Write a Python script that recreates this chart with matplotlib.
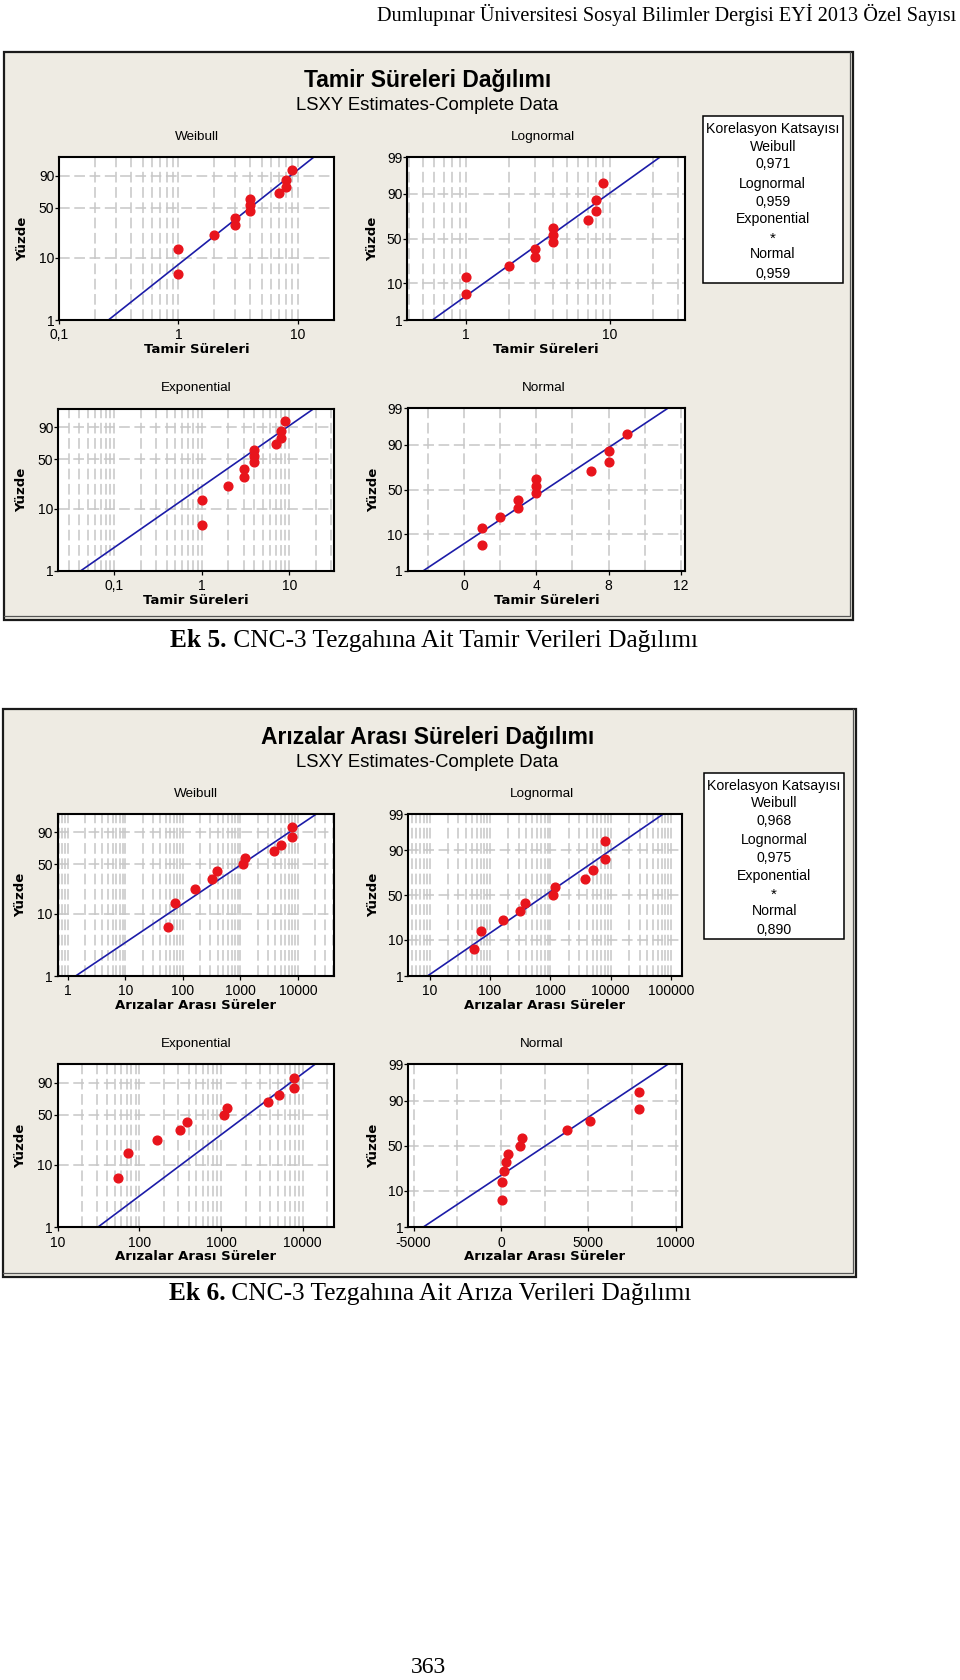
import math
import numpy as np
import matplotlib
matplotlib.use("Agg")
import matplotlib.pyplot as plt
from matplotlib.patches import Rectangle
from matplotlib.lines import Line2D
from matplotlib.ticker import NullFormatter

plt.rcParams['font.family'] = ['Liberation Sans', 'DejaVu Sans']

# ---- values ----
dagilimlar = ["Weibull", "Lognormal", "Exponential", "Normal"]

tamir_sure = [1, 1, 2, 3, 3, 4, 4, 4, 7, 8, 8, 9]
tamir_yuzde = [5.6, 13.7, 21.8, 29.8, 37.9, 46.0, 54.0, 62.1, 70.2, 78.2, 86.3, 94.4]
tamir_korelasyon = ["0,971", "0,959", "*", "0,959"]
tamir_xticks = {"Weibull": [0.1, 1, 10], "Lognormal": [1, 10],
                "Exponential": [0.1, 1, 10], "Normal": [0, 4, 8, 12]}

ariza_sure = [55, 72, 165, 315, 385, 1090, 1180, 3780, 5120, 7900, 7900]
ariza_yuzde = [6.1, 14.9, 23.7, 32.5, 41.2, 50.0, 58.8, 67.5, 76.3, 85.1, 93.9]
ariza_korelasyon = ["0,968", "0,975", "*", "0,890"]
ariza_xticks = {"Weibull": [1, 10, 100, 1000, 10000],
                "Lognormal": [10, 100, 1000, 10000, 100000],
                "Exponential": [10, 100, 1000, 10000],
                "Normal": [-5000, 0, 5000, 10000]}

yuzde_ticks_wb = [1, 10, 50, 90]
yuzde_ticks_n = [1, 10, 50, 90, 99]
yuzde_grid = [10, 50, 90]

# ---- layout (pixels on the 960x1680 page) ----
W, H = 960, 1680
RED = '#e8141c'
BLUE = '#1c1ca8'
GRID = '#c6c6c6'
BEIGE = '#eeebe3'

top_layout = {
    "Weibull": dict(box=(59.3, 157.3, 334.3, 320), xlim=(0.1, 20.3)),
    "Lognormal": dict(box=(407.3, 157.3, 685, 320), xlim=(0.389, 33.3)),
    "Exponential": dict(box=(58.3, 409, 334.3, 571), xlim=(0.0229, 32.7)),
    "Normal": dict(box=(407.7, 408.3, 685, 571), xlim=(-3.12, 12.23), step=2),
}
bottom_layout = {
    "Weibull": dict(box=(57.7, 814, 334.3, 976), xlim=(0.67, 42700)),
    "Lognormal": dict(box=(408.3, 814, 681.7, 976), xlim=(4.42, 150000)),
    "Exponential": dict(box=(57.7, 1064.3, 334.3, 1227.3), xlim=(10, 24400)),
    "Normal": dict(box=(408.3, 1064.3, 681.7, 1227.3), xlim=(-5307, 10346), step=2500),
}

# ---- probability scales ----
_a = [-3.969683028665376e+01, 2.209460984245205e+02, -2.759285104469687e+02,
      1.383577518672690e+02, -3.066479806614716e+01, 2.506628277459239e+00]
_b = [-5.447609879822406e+01, 1.615858368580409e+02, -1.556989798598866e+02,
      6.680131188771972e+01, -1.328068155288572e+01]
_c = [-7.784894002430293e-03, -3.223964580411365e-01, -2.400758277161838e+00,
      -2.549732539343734e+00, 4.374664141464968e+00, 2.938163982698783e+00]
_d = [7.784695709041462e-03, 3.224671290700398e-01, 2.445134137142996e+00,
      3.754408661907416e+00]


def _ppf(p):
    plow = 0.02425
    if p < plow:
        q = math.sqrt(-2 * math.log(p))
        return (((((_c[0]*q+_c[1])*q+_c[2])*q+_c[3])*q+_c[4])*q+_c[5]) / \
               ((((_d[0]*q+_d[1])*q+_d[2])*q+_d[3])*q+1)
    if p > 1 - plow:
        q = math.sqrt(-2 * math.log(1 - p))
        return -(((((_c[0]*q+_c[1])*q+_c[2])*q+_c[3])*q+_c[4])*q+_c[5]) / \
                ((((_d[0]*q+_d[1])*q+_d[2])*q+_d[3])*q+1)
    q = p - 0.5
    r = q * q
    return (((((_a[0]*r+_a[1])*r+_a[2])*r+_a[3])*r+_a[4])*r+_a[5])*q / \
           (((((_b[0]*r+_b[1])*r+_b[2])*r+_b[3])*r+_b[4])*r+1)


norm_ppf = np.vectorize(_ppf, otypes=[float])
_erf = np.vectorize(math.erf, otypes=[float])


def norm_fwd(p):
    p = np.clip(np.asarray(p, float) / 100, 1e-9, 1 - 1e-9)
    return norm_ppf(p)


def norm_inv(z):
    return 100 * 0.5 * (1 + _erf(np.asarray(z, float) / math.sqrt(2)))


def weib_fwd(p):
    p = np.clip(np.asarray(p, float) / 100, 1e-9, 1 - 1e-9)
    return np.log(-np.log(1 - p))


def weib_inv(y):
    return 100 * (1 - np.exp(-np.exp(np.asarray(y, float))))


# least squares (X on Y) line, as Minitab's LSXY
def fit_x(kind, x, pct, p_at):
    x = np.asarray(x, float)
    F = np.asarray(pct, float) / 100
    q = np.asarray(p_at, float) / 100
    if kind == "Exponential":
        w = -np.log(1 - F)
        theta = np.sum(x * w) / np.sum(w * w)
        return theta * (-np.log(1 - q))
    if kind == "Weibull":
        Y, Yq = np.log(-np.log(1 - F)), np.log(-np.log(1 - q))
    else:
        Y, Yq = norm_ppf(F), norm_ppf(q)
    X = x if kind == "Normal" else np.log(x)
    b, a = np.polyfit(Y, X, 1)
    Xq = a + b * Yq
    return Xq if kind == "Normal" else np.exp(Xq)


def lbl(v):
    return ('%g' % v).replace('.', ',')


fig = plt.figure(figsize=(W / 100, H / 100), dpi=100)
fig.patch.set_facecolor('white')


def fx(x):
    return x / W


def fy(y):
    return 1 - y / H


def frame(x0, y0, x1, y1):
    fig.add_artist(Rectangle((fx(x0), fy(y1)), (x1 - x0) / W, (y1 - y0) / H,
                             transform=fig.transFigure, fc=BEIGE, ec='#1a1a1a',
                             lw=1.6, zorder=-2))
    fig.add_artist(Line2D([fx(x0), fx(x1 - 3), fx(x1 - 3)],
                          [fy(y1 - 3.5), fy(y1 - 3.5), fy(y0)],
                          transform=fig.transFigure, color='#555555', lw=0.9, zorder=-1))


def grid_values(xlim, log, step=None):
    lo, hi = xlim
    if not log:
        start = math.ceil(lo / step) * step
        return list(np.arange(start, hi, step))
    vals = []
    for e in range(int(math.floor(math.log10(lo))), int(math.ceil(math.log10(hi))) + 1):
        for k in range(1, 10):
            v = k * 10.0 ** e
            if lo * 1.001 < v < hi * 0.999:
                vals.append(v)
    return vals


def panel(kind, lay, x, pct, xticks, xlabel, right):
    x0, y0, x1, y1 = lay["box"]
    w, h = x1 - x0, y1 - y0
    ax = fig.add_axes([fx(x0), fy(y1), w / W, h / H])
    ax.set_facecolor('white')
    if kind in ("Weibull", "Exponential"):
        ax.set_yscale('function', functions=(weib_fwd, weib_inv))
        yt = yuzde_ticks_wb
    else:
        ax.set_yscale('function', functions=(norm_fwd, norm_inv))
        yt = yuzde_ticks_n
    log = kind != "Normal"
    if log:
        ax.set_xscale('log')
    ax.set_xlim(*lay["xlim"])
    ax.set_ylim(1, 99)

    for v in grid_values(lay["xlim"], log, lay.get("step")):
        ax.axvline(v, color=GRID, lw=1.1, ls=(0, (7, 3)), zorder=1)
    for p in yuzde_grid:
        ax.axhline(p, color=GRID, lw=1.1, ls=(0, (7, 3)), zorder=1)

    ax.set_xticks(xticks)
    ax.set_xticklabels([lbl(v) for v in xticks])
    ax.set_xticks([], minor=True)
    ax.xaxis.set_minor_formatter(NullFormatter())
    ax.set_yticks(yt)
    ax.set_yticklabels([lbl(v) for v in yt])
    ax.set_yticks([], minor=True)
    ax.tick_params(axis='x', which='major', direction='out', length=3, width=0.9,
                   labelsize=10, pad=3.0)
    ax.tick_params(axis='y', which='major', direction='out', length=3, width=0.9,
                   labelsize=10, pad=0.6)
    for s in ax.spines.values():
        s.set_linewidth(1.5)
        s.set_zorder(5)

    pl = [0.2, 99.8]
    ax.plot(fit_x(kind, x, pct, pl), pl, color=BLUE, lw=1.2, zorder=3)
    ax.plot(x, pct, 'o', ms=6.3, color=RED, mec=RED, zorder=4)

    dx = -3 if right else 0
    ax.text(0.5 + dx / w, 1 + 20.5 / h, kind, transform=ax.transAxes,
            ha='center', va='center', fontsize=9.7)
    ax.text(0.5, -29.5 / h, xlabel, transform=ax.transAxes, ha='center', va='center',
            fontsize=9.5, fontweight='bold', family='DejaVu Sans')
    off = 34.3 if right else 36.6
    ax.text(-off / w, 0.5, "Yüzde", transform=ax.transAxes, rotation=90,
            ha='center', va='center', fontsize=9.5, fontweight='bold',
            family='DejaVu Sans')
    return ax


def legend(box, values):
    x0, y0, x1, y1 = box
    fig.add_artist(Rectangle((fx(x0), fy(y1)), (x1 - x0) / W, (y1 - y0) / H,
                             transform=fig.transFigure, fc='white', ec='black',
                             lw=1.1, zorder=1))
    lines = ["Korelasyon Katsayısı"]
    for d, v in zip(dagilimlar, values):
        lines += [d, v]
    centers = [12.3, 29.8, 47.3, 66.8, 84.7, 102.3, 118.3, 137.3, 156.8]
    cx = (x0 + x1) / 2
    for t, c in zip(lines, centers):
        base = c + (8.0 if t == "*" else 4.9)
        fig.text(fx(cx), fy(y0 + base), t, ha='center', va='baseline',
                 fontsize=10.2 if t != "*" else 11)


def block(top, layout, x, pct, xticks, xlabel, title, values, legend_box, box):
    frame(*box)
    cx = 427.5
    fig.text(fx(cx), fy(top + 35), title, ha='center', va='baseline',
             fontsize=16.5, fontweight='bold')
    fig.text(fx(cx), fy(top + 58), "LSXY Estimates-Complete Data", ha='center',
             va='baseline', fontsize=13.3)
    for kind in dagilimlar:
        panel(kind, layout[kind], x, pct, xticks[kind], xlabel,
              kind in ("Lognormal", "Normal"))
    legend(legend_box, values)


block(52, top_layout, tamir_sure, tamir_yuzde, tamir_xticks, "Tamir Süreleri",
      "Tamir Süreleri Dağılımı", tamir_korelasyon, (702.7, 116, 842.7, 283.3),
      (4, 52, 853.3, 620))
block(709, bottom_layout, ariza_sure, ariza_yuzde, ariza_xticks,
      "Arızalar Arası Süreler", "Arızalar Arası Süreleri Dağılımı",
      ariza_korelasyon, (704, 772.7, 844.3, 939.3), (2.7, 709, 855.7, 1276.7))

# page texts
fig.text(fx(956), fy(21), "Dumlupınar Üniversitesi Sosyal Bilimler Dergisi EYİ 2013 Özel Sayısı",
         ha='right', va='baseline', fontsize=14.55, family='Liberation Serif')

renderer = fig.canvas.get_renderer()


def caption(bold, rest, cx, base):
    t1 = fig.text(0, fy(base), bold, ha='left', va='baseline', fontsize=18.3,
                  fontweight='bold', family='Liberation Serif')
    t2 = fig.text(0, fy(base), " " + rest, ha='left', va='baseline', fontsize=18.3,
                  family='Liberation Serif')
    w1 = t1.get_window_extent(renderer).width
    w2 = t2.get_window_extent(renderer).width
    start = cx - (w1 + w2) / 2
    t1.set_x(fx(start))
    t2.set_x(fx(start + w1))


caption("Ek 5.", "CNC-3 Tezgahına Ait Tamir Verileri Dağılımı", 434, 647)
caption("Ek 6.", "CNC-3 Tezgahına Ait Arıza Verileri Dağılımı", 430, 1300)

fig.text(fx(429), fy(1673), "363", ha='center', va='baseline', fontsize=17,
         family='Liberation Serif')

fig.savefig("out.png", dpi=100)
